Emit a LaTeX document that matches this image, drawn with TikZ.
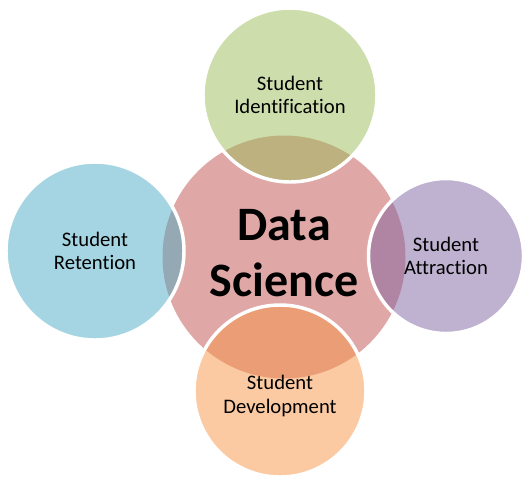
\documentclass[tikz,border=0pt]{standalone}
\usepackage{fontspec}
\setmainfont[Ligatures=NoCommon]{Carlito}

\definecolor{core}{RGB}{192,80,77}
\definecolor{idgreen}{RGB}{155,187,89}
\definecolor{retblue}{RGB}{75,172,198}
\definecolor{attpurple}{RGB}{128,100,162}
\definecolor{devorange}{RGB}{247,150,70}

\begin{document}
\begin{tikzpicture}[
  x=0.75pt, y=-0.75pt,
  hub/.style={circle, minimum size=243*0.75pt, inner sep=0pt, fill=#1, fill opacity=0.5, text opacity=1,
    font=\bfseries\fontsize{36}{41.5}\selectfont, align=center},
  petal/.style={circle, inner sep=0pt, fill=#1, fill opacity=0.5, text opacity=1,
    draw=white, draw opacity=1, line width=2.6pt,
    font=\fontsize{15.5}{17.5}\selectfont, align=center}
]
  \useasboundingbox (0,0) rectangle (522,483);

  \node[hub=core] (ds) at (284,257) {};
  \node (dstext) at (284,253) [font=\bfseries\fontsize{36}{41.5}\selectfont, align=center] {Data\\Science};

  \node[petal=idgreen, minimum size=174*0.75pt] (ident) at (290,95) {Student\\Identification};
  \node[petal=retblue, minimum size=178*0.75pt] (ret) at (95,251) {Student\\Retention};
  \node[petal=attpurple, minimum size=155*0.75pt] (attr) at (446,256) {Student\\Attraction};
  \node[petal=devorange, minimum size=172*0.75pt] (dev) at (280,391) {};
  \node (devtext) at (280,396) [font=\fontsize{15.5}{17.5}\selectfont, align=center] {Student\\Development};
\end{tikzpicture}
\end{document}
